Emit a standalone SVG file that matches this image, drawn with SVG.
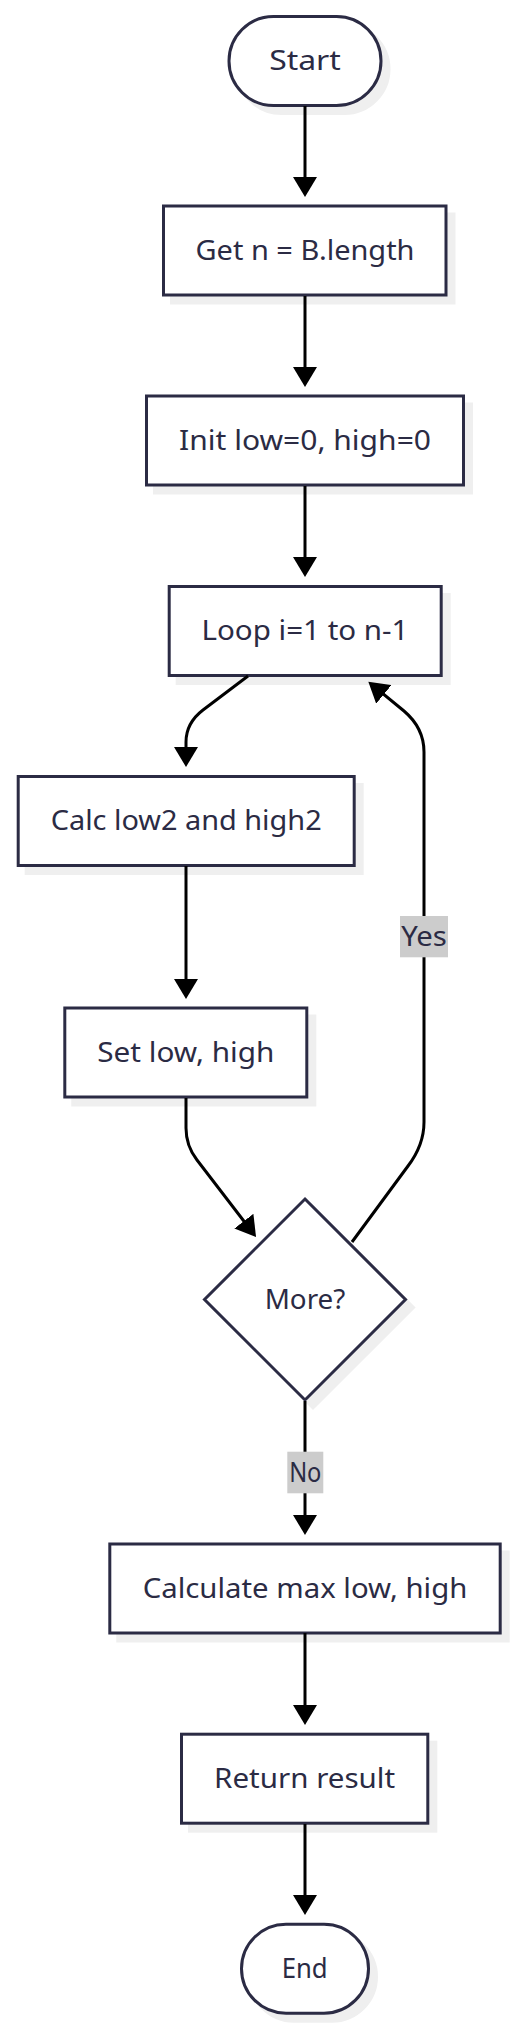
<svg xmlns="http://www.w3.org/2000/svg" width="518" height="2030" viewBox="0 0 518 2030">
<style>
.bg{fill:#ffffff}
.shadow{fill:#efefef;stroke:#efefef;stroke-width:3}
.node{fill:#ffffff;stroke:#2b2b44;stroke-width:3}
.txt{font-family:"Noto Sans","Open Sans","Liberation Sans",sans-serif;font-size:28px;fill:#2b2b44;text-anchor:middle}
.edge{fill:none;stroke:#000000;stroke-width:3}
.lbl{fill:#cccccc}
</style>
<defs>
<marker id="ah" markerUnits="userSpaceOnUse" markerWidth="20" markerHeight="24" viewBox="0 0 20 24" refX="15" refY="12" orient="auto">
<path d="M0,0 L20,12 L0,24 z" fill="#000000"/>
</marker>
</defs>
<rect class="bg" x="0" y="0" width="518" height="2030"/>

<g id="node-start">
<rect class="shadow" x="237" y="24.5" width="152" height="89" rx="44.5"/>
<rect class="node" x="229" y="16.5" width="152" height="89" rx="44.5"/>
<text class="txt" x="305" y="70" textLength="71.7" lengthAdjust="spacingAndGlyphs">Start</text>
</g>

<g id="node-getn">
<rect class="shadow" x="171.5" y="214" width="282.5" height="89"/>
<rect class="node" x="163.5" y="206" width="282.5" height="89"/>
<text class="txt" x="305" y="259.5" textLength="219" lengthAdjust="spacingAndGlyphs">Get n = B.length</text>
</g>

<g id="node-init">
<rect class="shadow" x="154.5" y="404" width="317" height="89"/>
<rect class="node" x="146.5" y="396" width="317" height="89"/>
<text class="txt" x="305" y="449.5" textLength="252" lengthAdjust="spacingAndGlyphs">Init low=0, high=0</text>
</g>

<g id="node-loop">
<rect class="shadow" x="177.2" y="594.5" width="272" height="89"/>
<rect class="node" x="169.2" y="586.5" width="272" height="89"/>
<text class="txt" x="305" y="640" textLength="207" lengthAdjust="spacingAndGlyphs">Loop i=1 to n-1</text>
</g>

<g id="node-calc">
<rect class="shadow" x="26.2" y="784.5" width="336" height="89"/>
<rect class="node" x="18.2" y="776.5" width="336" height="89"/>
<text class="txt" x="186.2" y="830" textLength="271" lengthAdjust="spacingAndGlyphs">Calc low2 and high2</text>
</g>

<g id="node-set">
<rect class="shadow" x="72.8" y="1016" width="242" height="89"/>
<rect class="node" x="64.8" y="1008" width="242" height="89"/>
<text class="txt" x="185.8" y="1061.5" textLength="177" lengthAdjust="spacingAndGlyphs">Set low, high</text>
</g>

<g id="node-more">
<polygon class="shadow" points="313,1207 413.5,1307.5 313,1408 212.5,1307.5"/>
<polygon class="node" points="305,1199 405.5,1299.5 305,1400 204.5,1299.5"/>
<text class="txt" x="305" y="1309" textLength="80.7" lengthAdjust="spacingAndGlyphs">More?</text>
</g>

<g id="node-calcmax">
<rect class="shadow" x="117.8" y="1552" width="390.4" height="89"/>
<rect class="node" x="109.8" y="1544" width="390.4" height="89"/>
<text class="txt" x="305" y="1597.5" textLength="324.7" lengthAdjust="spacingAndGlyphs">Calculate max low, high</text>
</g>

<g id="node-return">
<rect class="shadow" x="189.5" y="1742.2" width="246.3" height="89"/>
<rect class="node" x="181.5" y="1734.2" width="246.3" height="89"/>
<text class="txt" x="304.6" y="1787.7" textLength="181" lengthAdjust="spacingAndGlyphs">Return result</text>
</g>

<g id="node-end">
<rect class="shadow" x="249.5" y="1932.2" width="127" height="89" rx="44.5"/>
<rect class="node" x="241.5" y="1924.2" width="127" height="89" rx="44.5"/>
<text class="txt" x="304.7" y="1977.7" textLength="46" lengthAdjust="spacingAndGlyphs">End</text>
</g>

<g id="edges">
<path class="edge" marker-end="url(#ah)" d="M305,106 L305,192"/>
<path class="edge" marker-end="url(#ah)" d="M305,296 L305,382"/>
<path class="edge" marker-end="url(#ah)" d="M305,486 L305,572"/>
<path class="edge" marker-end="url(#ah)" d="M248,676 L203,710 Q186,723 186,742 L186,762"/>
<path class="edge" marker-end="url(#ah)" d="M186,866 L186,994"/>
<path class="edge" marker-end="url(#ah)" d="M186,1098 L186,1128 Q186,1146 197,1160 L253,1233"/>
<path class="edge" marker-end="url(#ah)" d="M352,1242 L408,1166 Q424,1145 424,1122 L424,752 Q424,728 404,711 L372.2,684.9"/>
<path class="edge" marker-end="url(#ah)" d="M305,1401 L305,1530"/>
<path class="edge" marker-end="url(#ah)" d="M305,1633 L305,1720"/>
<path class="edge" marker-end="url(#ah)" d="M305,1824 L305,1910"/>
<g id="edge-label-yes">
<rect class="lbl" x="400" y="916" width="48" height="41.3"/>
<text class="txt" x="424" y="946" textLength="45.7" lengthAdjust="spacingAndGlyphs">Yes</text>
</g>
<g id="edge-label-no">
<rect class="lbl" x="287.3" y="1451.7" width="36" height="41.6"/>
<text class="txt" x="305.3" y="1481.5" textLength="32.3" lengthAdjust="spacingAndGlyphs">No</text>
</g>
</g>
</svg>
